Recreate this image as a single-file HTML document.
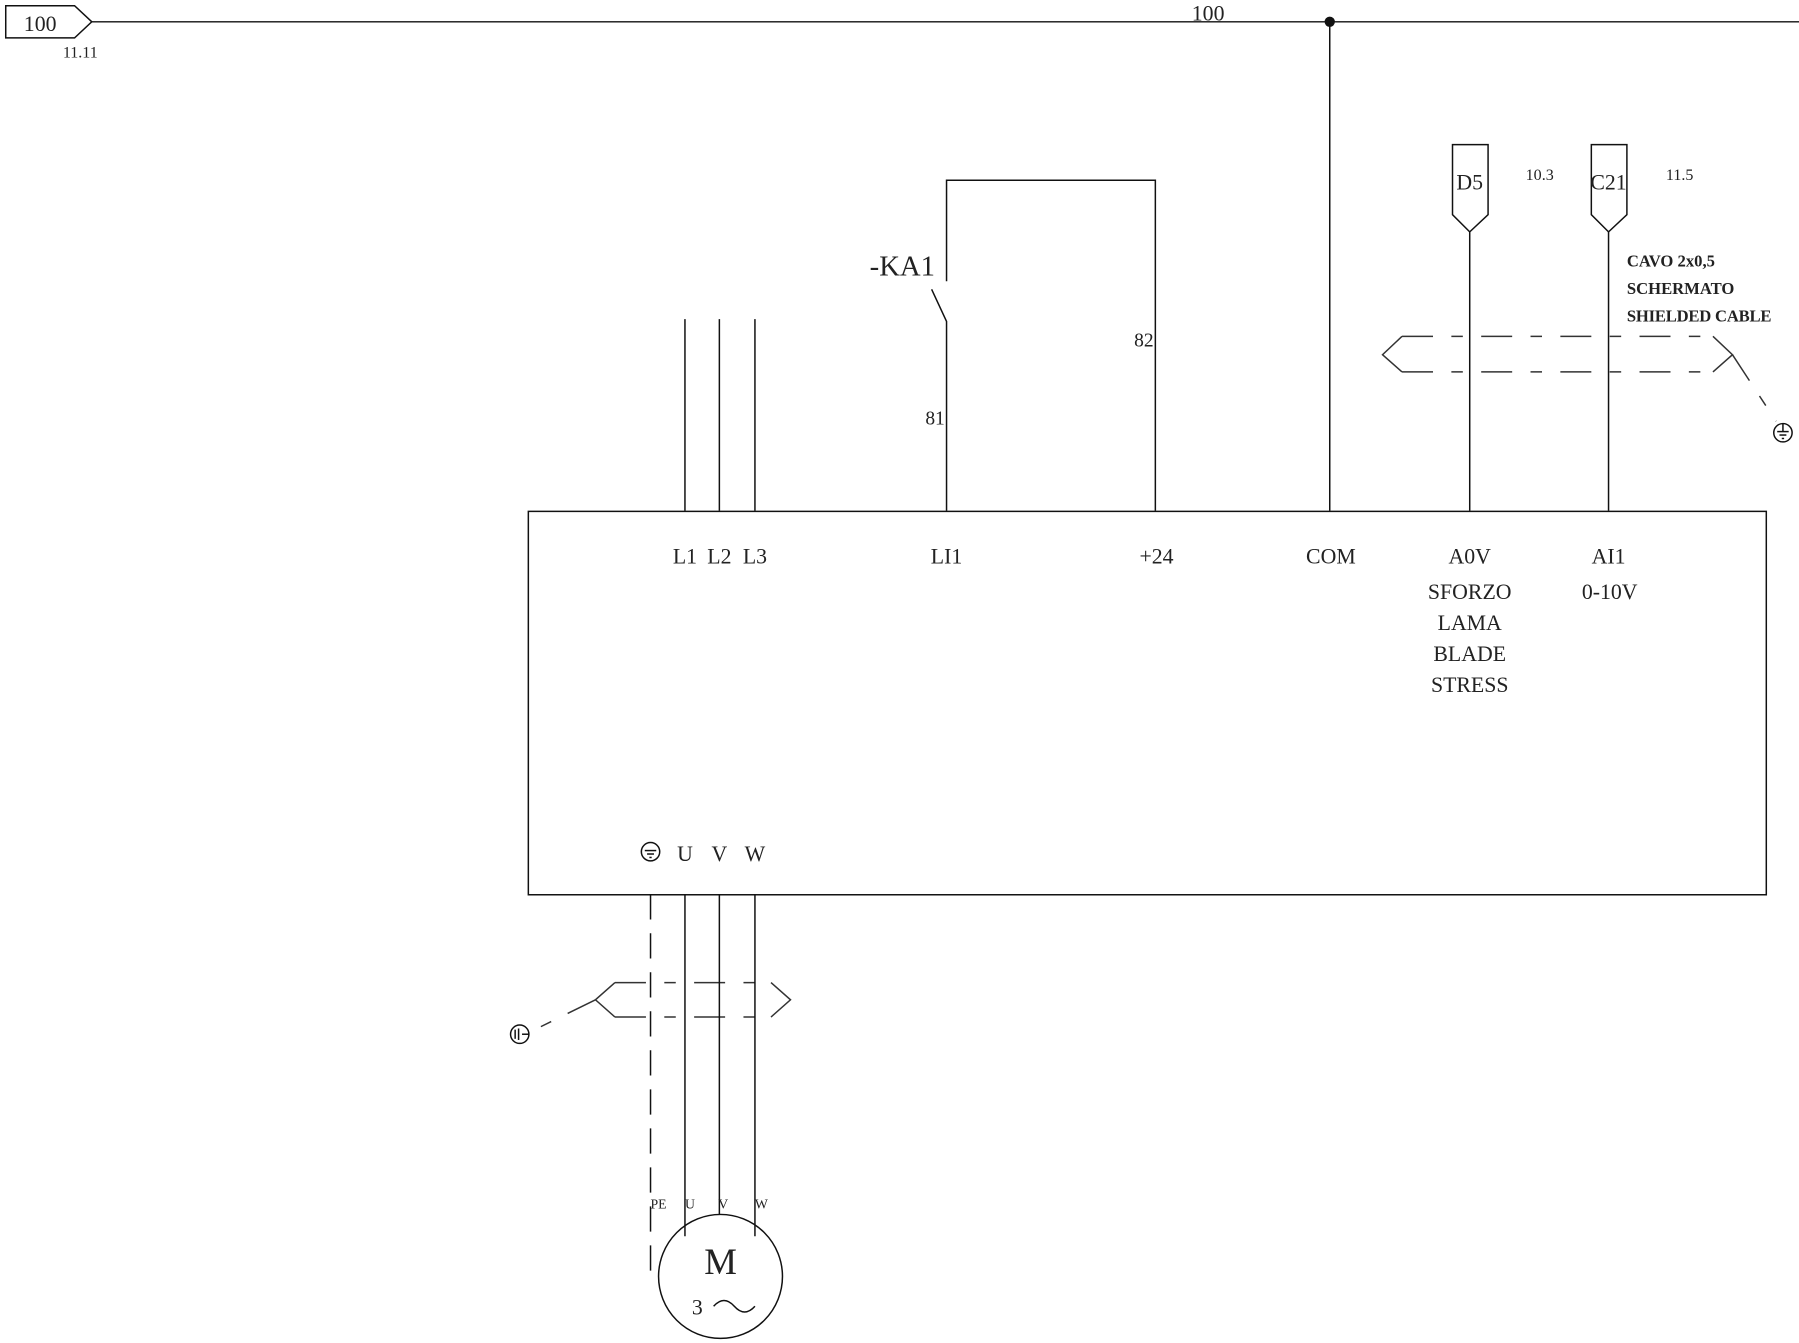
<!DOCTYPE html>
<html><head><meta charset="utf-8"><style>html,body{margin:0;padding:0;background:#fff}svg{display:block}text{font-family:"Liberation Serif",serif;fill:#222}</style></head>
<body>
<svg width="1799" height="1343" viewBox="0 0 1568 1170" preserveAspectRatio="none" xmlns="http://www.w3.org/2000/svg">
<g stroke="#111" stroke-width="1.3" fill="none">
<polygon points="5,5 65,5 80,19 65,33 5,33"/>
<line x1="80" y1="19" x2="1568" y2="19"/>
<line x1="1159" y1="19" x2="1159" y2="445"/>
<rect x="460.5" y="445.5" width="1079" height="334"/>
<line x1="597" y1="278" x2="597" y2="445"/>
<line x1="627" y1="278" x2="627" y2="445"/>
<line x1="658" y1="278" x2="658" y2="445"/>
<polyline points="825,445 825,280 812,252"/>
<polyline points="825,245 825,157 1007,157 1007,445"/>
<polygon points="1266,126 1297,126 1297,187 1281,202 1266,187"/>
<line x1="1281" y1="202" x2="1281" y2="445"/>
<polygon points="1387,126 1418,126 1418,187 1402,202 1387,187"/>
<line x1="1402" y1="202" x2="1402" y2="445"/>
<g stroke-dasharray="27,16,10,16" stroke="#333">
<line x1="1222" y1="293" x2="1493" y2="293"/>
<line x1="1222" y1="324" x2="1493" y2="324"/>
<line x1="1510" y1="309" x2="1548" y2="367"/>
<line x1="536" y1="856" x2="672" y2="856"/>
<line x1="536" y1="886" x2="672" y2="886"/>
<line x1="519" y1="871" x2="460" y2="900"/>
</g>
<polyline points="1222,293 1205,309 1222,324" stroke="#333"/>
<polyline points="1493,293 1510,309 1493,324" stroke="#333"/>
<polyline points="536,856 519,871 536,886" stroke="#333"/>
<polyline points="672,856 689,871 672,886" stroke="#333"/>
<circle cx="1554" cy="377" r="8"/>
<line x1="1549" y1="376" x2="1559" y2="376"/><line x1="1551" y1="379" x2="1557" y2="379"/><line x1="1553" y1="382" x2="1555" y2="382"/><line x1="1554" y1="369" x2="1554" y2="376"/>
<circle cx="453" cy="901" r="8"/>
<line x1="449" y1="897" x2="449" y2="905"/><line x1="452" y1="896" x2="452" y2="906"/><line x1="455" y1="901" x2="461" y2="901"/>
<circle cx="567" cy="742" r="8"/>
<line x1="562" y1="741" x2="572" y2="741"/><line x1="564" y1="744" x2="570" y2="744"/><line x1="566" y1="747" x2="568" y2="747"/>
<polyline points="567,779 567,1108 573,1108" stroke-dasharray="22,12"/>
<line x1="597" y1="779" x2="597" y2="1077"/>
<line x1="627" y1="779" x2="627" y2="1058"/>
<line x1="658" y1="779" x2="658" y2="1077"/>
<circle cx="628" cy="1112" r="54"/>
<path d="M622,1138 q9,-10 18,0 t18,0"/>
</g>
<circle cx="1159" cy="19" r="4.5" fill="#111"/>
<g font-size="19" text-anchor="middle">
<text x="35" y="27">100</text>
<text x="1053" y="18">100</text>
<text x="597" y="491">L1</text><text x="627" y="491">L2</text><text x="658" y="491">L3</text>
<text x="825" y="491">LI1</text><text x="1008" y="491">+24</text><text x="1160" y="491">COM</text>
<text x="1281" y="491">A0V</text><text x="1402" y="491">AI1</text>
<text x="1281" y="522">SFORZO</text><text x="1281" y="549">LAMA</text><text x="1281" y="576">BLADE</text><text x="1281" y="603">STRESS</text>
<text x="1403" y="522">0-10V</text>
<text x="597" y="750">U</text><text x="627" y="750">V</text><text x="658" y="750">W</text>
<text x="1281" y="165">D5</text><text x="1402" y="165">C21</text>
<text x="997" y="302" font-size="17">82</text><text x="815" y="370" font-size="17">81</text>
</g>
<text x="758" y="240" font-size="25">-KA1</text>
<g font-size="14" text-anchor="middle"><text x="70" y="50">11.11</text><text x="1342" y="157">10.3</text><text x="1464" y="157">11.5</text></g>
<g font-size="14.5" font-weight="bold"><text x="1418" y="232">CAVO 2x0,5</text><text x="1418" y="256">SCHERMATO</text><text x="1418" y="280" textLength="126">SHIELDED CABLE</text></g>
<g font-size="12"><text x="567" y="1053">PE</text><text x="597" y="1053">U</text><text x="626" y="1053">V</text><text x="658" y="1053">W</text></g>
<text x="628" y="1110" font-size="32" text-anchor="middle">M</text>
<text x="603" y="1145" font-size="19">3</text>
</svg>
</body></html>
